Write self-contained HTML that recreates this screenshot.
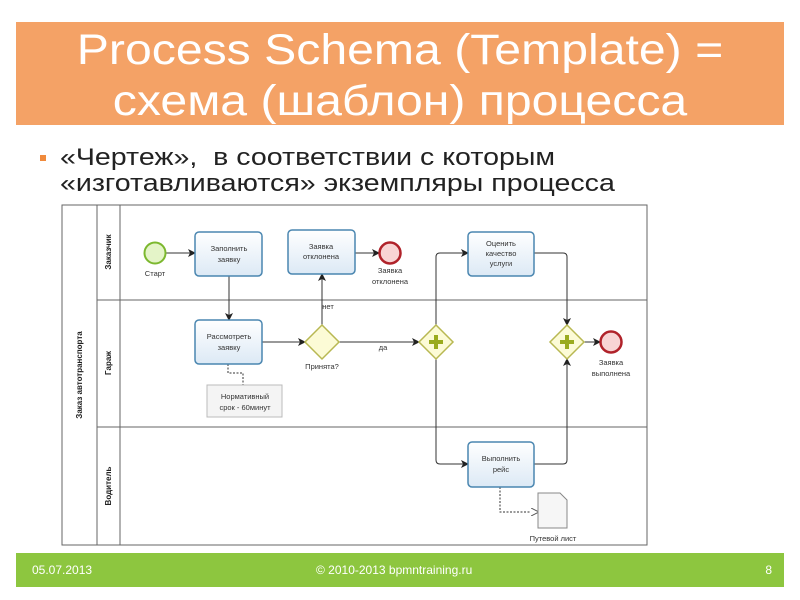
<!DOCTYPE html>
<html><head><meta charset="utf-8"><style>
body{margin:0;width:800px;height:600px;background:#fff;position:relative;overflow:hidden;font-family:"Liberation Sans","DejaVu Sans",sans-serif}
#title{position:absolute;left:16px;top:22px;width:768px;height:103px;background:#F4A266;color:#fff;text-align:center;font-size:43px;line-height:51px}
#title div{transform:scaleX(1.12);transform-origin:center;position:relative;top:3px}
#bul{position:absolute;left:60px;top:145px;font-size:24px;line-height:26px;color:#222;transform:scaleX(1.19);transform-origin:left top;white-space:nowrap}
#sq{position:absolute;left:40px;top:155px;width:6px;height:6px;background:#F08A3C}
#foot{position:absolute;left:16px;top:553px;width:768px;height:34px;background:#8DC63F;color:#fff;font-size:12px}
#foot span{position:absolute;top:10px}
</style></head><body>
<div id="title"><div>Process Schema (Template) =</div><div>схема (шаблон) процесса</div></div>
<div id="sq"></div>
<div id="bul">«Чертеж», &nbsp;в соответствии с которым<br>«изготавливаются» экземпляры процесса</div>
<svg width="800" height="600" style="position:absolute;left:0;top:0" font-family="Liberation Sans, DejaVu Sans, sans-serif">
<defs>
<marker id="a" markerWidth="8" markerHeight="8" refX="7" refY="4" orient="auto" markerUnits="userSpaceOnUse"><path d="M0,0 L8,4 L0,8 L2,4 z" fill="#222"/></marker>
<marker id="o" markerWidth="8" markerHeight="8" refX="7" refY="4" orient="auto" markerUnits="userSpaceOnUse"><path d="M0,0 L8,4 L0,8" fill="#fff" stroke="#555"/></marker>
<linearGradient id="t" x1="0" y1="0" x2="0" y2="1"><stop offset="0" stop-color="#fff"/><stop offset="1" stop-color="#dce9f5"/></linearGradient>
</defs>
<g stroke="#666" fill="none" stroke-width="1">
<rect x="62" y="205" width="585" height="340"/>
<line x1="97" y1="205" x2="97" y2="545"/><line x1="120" y1="205" x2="120" y2="545"/>
<line x1="97" y1="300" x2="647" y2="300"/><line x1="97" y1="427" x2="647" y2="427"/>
</g>
<g font-size="8" font-weight="bold" fill="#222" text-anchor="middle">
<text transform="translate(82,375) rotate(-90)">Заказ автотранспорта</text>
<text transform="translate(111,252) rotate(-90)">Заказчик</text>
<text transform="translate(111,363) rotate(-90)">Гараж</text>
<text transform="translate(111,486) rotate(-90)">Водитель</text>
</g>
<g stroke="#333" fill="none" stroke-width="1">
<line x1="166" y1="253" x2="195" y2="253" marker-end="url(#a)"/>
<line x1="229" y1="276" x2="229" y2="320" marker-end="url(#a)"/>
<line x1="262" y1="342" x2="305" y2="342" marker-end="url(#a)"/>
<line x1="322" y1="325" x2="322" y2="274" marker-end="url(#a)"/>
<line x1="355" y1="253" x2="379" y2="253" marker-end="url(#a)"/>
<line x1="339" y1="342" x2="419" y2="342" marker-end="url(#a)"/>
<path d="M436,325 V257 Q436,253 440,253 H468" marker-end="url(#a)"/>
<path d="M436,359 V460 Q436,464 440,464 H468" marker-end="url(#a)"/>
<path d="M534,253 H563 Q567,253 567,257 V325" marker-end="url(#a)"/>
<path d="M534,464 H563 Q567,464 567,460 V359" marker-end="url(#a)"/>
<line x1="584" y1="342" x2="600" y2="342" marker-end="url(#a)"/>
<path d="M228,364 V373 H243 V385" stroke-dasharray="2,1.5"/>
<path d="M500,487 V512 H538" stroke-dasharray="2,1.5" marker-end="url(#o)"/>
</g>
<circle cx="155" cy="253" r="10.5" fill="#e4f4c8" stroke="#7cb82f" stroke-width="2"/>
<circle cx="390" cy="253" r="10.5" fill="#f8d4d4" stroke="#b0222a" stroke-width="2.5"/>
<circle cx="611" cy="342" r="10.5" fill="#f8d4d4" stroke="#b0222a" stroke-width="2.5"/>
<g fill="url(#t)" stroke="#4a86b0" stroke-width="1.5">
<rect x="195" y="232" width="67" height="44" rx="4"/>
<rect x="288" y="230" width="67" height="44" rx="4"/>
<rect x="195" y="320" width="67" height="44" rx="4"/>
<rect x="468" y="232" width="66" height="44" rx="4"/>
<rect x="468" y="442" width="66" height="45" rx="4"/>
</g>
<g fill="#fcfbd6" stroke="#b8b852" stroke-width="1.5">
<path d="M322,325 L339,342 L322,359 L305,342 z"/>
<path d="M436,325 L453,342 L436,359 L419,342 z"/>
<path d="M567,325 L584,342 L567,359 L550,342 z"/>
</g>
<g stroke="#9aab1e" stroke-width="4"><path d="M429,342 H443 M436,335 V349"/><path d="M560,342 H574 M567,335 V349"/></g>
<rect x="207" y="385" width="75" height="32" fill="#f4f4f4" stroke="#bbb"/>
<path d="M538,493 H560 L567,500 V528 H538 z" fill="#f6f6f6" stroke="#888"/>
<g font-size="7.5" fill="#333" text-anchor="middle">
<text x="229" y="251">Заполнить</text><text x="229" y="262">заявку</text>
<text x="321" y="249">Заявка</text><text x="321" y="259">отклонена</text>
<text x="229" y="339">Рассмотреть</text><text x="229" y="350">заявку</text>
<text x="501" y="246">Оценить</text><text x="501" y="256">качество</text><text x="501" y="266">услуги</text>
<text x="501" y="461">Выполнить</text><text x="501" y="472">рейс</text>
<text x="155" y="276">Старт</text>
<text x="390" y="273">Заявка</text><text x="390" y="284">отклонена</text>
<text x="611" y="365">Заявка</text><text x="611" y="376">выполнена</text>
<text x="328" y="309">нет</text><text x="383" y="350">да</text>
<text x="322" y="369">Принята?</text>
<text x="245" y="399">Нормативный</text><text x="245" y="410">срок - 60минут</text>
<text x="553" y="541">Путевой лист</text>
</g>
</svg>
<div id="foot"><span style="left:16px">05.07.2013</span><span style="left:300px">© 2010-2013 bpmntraining.ru</span><span style="right:12px">8</span></div>
</body></html>
